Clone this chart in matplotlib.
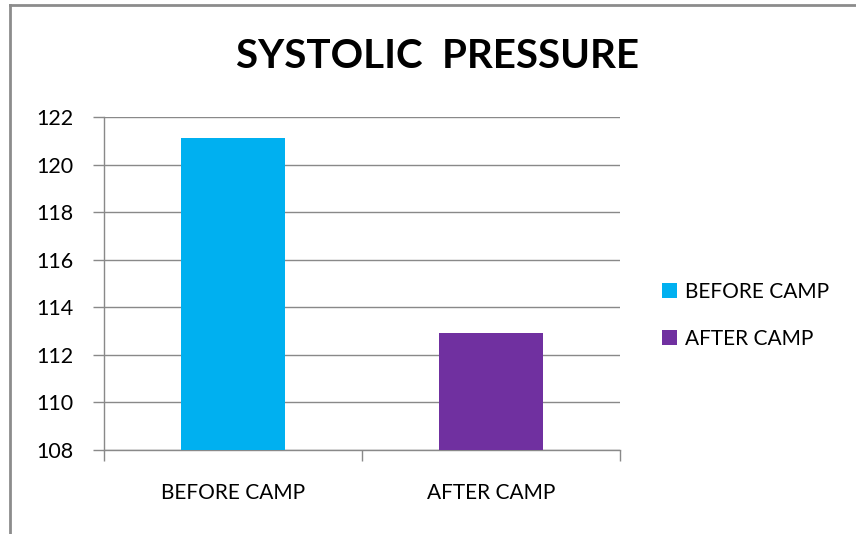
import matplotlib.pyplot as plt
from matplotlib.lines import Line2D

categories = ["BEFORE CAMP", "AFTER CAMP"]
values = [121.1, 112.9]
colors = ["#00B0F0", "#7030A0"]
yticks = [108, 110, 112, 114, 116, 118, 120, 122]

plt.rcParams['font.family'] = ['Lato', 'DejaVu Sans']

fig = plt.figure(figsize=(8.56, 5.34), dpi=100)
ax = fig.add_axes([0.1215, 0.1573, 0.6028, 0.6236])

x = list(range(len(categories)))
bars = ax.bar(x, values, width=0.4, color=colors, zorder=3, label=categories)

ax.set_xlim(-0.5, 1.5)
ax.set_ylim(108, 122)
ax.set_yticks(yticks)
ax.set_yticklabels([str(v) for v in yticks], fontsize=15.5)
ax.set_xticks([-0.5, 0.5, 1.5])
ax.set_xticklabels([])
ax.set_xticks(x, minor=True)
ax.set_xticklabels(categories, minor=True, fontsize=15)
ax.tick_params(axis='x', which='minor', length=0, pad=24)
ax.tick_params(axis='x', which='major', length=8, color='#898989', width=1)
ax.tick_params(axis='y', length=8, color='#898989', width=1, pad=14)

ax.grid(axis='y', color='#898989', linewidth=1, zorder=0)
for s in ['top', 'right']:
    ax.spines[s].set_visible(False)
for s in ['left', 'bottom']:
    ax.spines[s].set_color('#898989')
    ax.spines[s].set_linewidth(1)

fig.text(0.511, 0.895, "SYSTOLIC  PRESSURE", ha='center', va='center',
         fontsize=29, fontweight='bold')

leg = ax.legend(handles=list(bars), labels=categories, loc='center left',
                bbox_to_anchor=(1.045, 0.405), frameon=False, fontsize=15,
                handlelength=0.7, handleheight=0.7, handletextpad=0.4,
                labelspacing=1.3)

# chart border (only top and left visible in the crop)
fig.add_artist(Line2D([0.0115, 0.0115], [0, 0.99], transform=fig.transFigure,
                      color='#8c8c8c', linewidth=2))
fig.add_artist(Line2D([0.0115, 1.0], [0.99, 0.99], transform=fig.transFigure,
                      color='#8c8c8c', linewidth=2))

fig.savefig("out.png", dpi=100)
